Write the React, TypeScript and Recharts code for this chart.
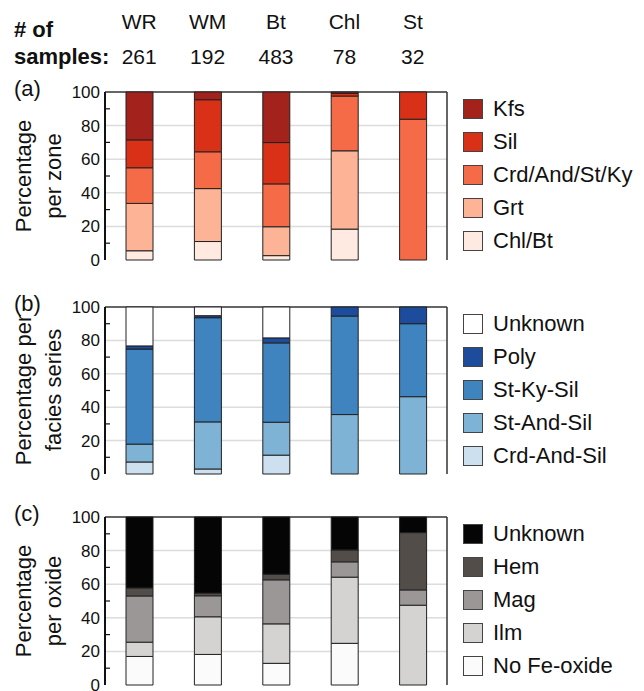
import React from "react";
import { BarChart, Bar, XAxis, YAxis, CartesianGrid } from "recharts";

const categories = ["WR", "WM", "Bt", "Chl", "St"];
const sampleCounts = [261, 192, 483, 78, 32];

// (a) metamorphic zone, bottom -> top
const chlBt = [5.5, 11, 2.6, 18.4, 0];
const grt = [28.2, 31.5, 17.2, 46.6, 0];
const crdAndStKy = [21.2, 21.9, 25.5, 32.6, 83.8];
const sil = [16.6, 31, 24.6, 1.6, 16.2];
const kfs = [28.5, 4.6, 30.1, 0.8, 0];

// (b) facies series
const crdAndSil = [7.2, 3.0, 11.3, 0, 0];
const stAndSil = [10.7, 28.2, 19.7, 35.6, 46.3];
const stKySil = [56.9, 62.4, 47.5, 59, 43.7];
const poly = [1.9, 1.2, 3, 5.4, 10];
const unknownFacies = [23.3, 5.2, 18.5, 0, 0];

// (c) oxide
const noFeOxide = [17, 18.2, 12.9, 24.8, 0];
const ilm = [8.5, 22.4, 23.5, 39.4, 47.5];
const mag = [27.5, 12.5, 26.2, 9.1, 9.1];
const hem = [4.8, 1.6, 3.3, 7.1, 34.1];
const unknownOxide = [42.2, 45.3, 34.1, 19.6, 9.3];

const yTicks = [0, 10, 20, 30, 40, 50, 60, 70, 80, 90, 100];
const gridValues = [20, 40, 60, 80];
const Y_MAX = 100;

const FONT = "'Liberation Sans', Arial, Helvetica, sans-serif";
const PLOT_LEFT = 105;
const EDGE = "#222";

type Series = { key: string; label: string; color: string; values: number[] };

const zoneSeries: Series[] = [
  { key: "chlBt", label: "Chl/Bt", color: "#feeae0", values: chlBt },
  { key: "grt", label: "Grt", color: "#fcb396", values: grt },
  { key: "crd", label: "Crd/And/St/Ky", color: "#f56b47", values: crdAndStKy },
  { key: "sil", label: "Sil", color: "#d83118", values: sil },
  { key: "kfs", label: "Kfs", color: "#a3231c", values: kfs },
];

const faciesSeries: Series[] = [
  { key: "crdAnd", label: "Crd-And-Sil", color: "#cde0ef", values: crdAndSil },
  { key: "stAnd", label: "St-And-Sil", color: "#7fb3d6", values: stAndSil },
  { key: "stKy", label: "St-Ky-Sil", color: "#3f83bf", values: stKySil },
  { key: "poly", label: "Poly", color: "#1d4c9c", values: poly },
  { key: "unk", label: "Unknown", color: "#ffffff", values: unknownFacies },
];

const oxideSeries: Series[] = [
  { key: "noFe", label: "No Fe-oxide", color: "#fbfbfb", values: noFeOxide },
  { key: "ilm", label: "Ilm", color: "#d4d3d2", values: ilm },
  { key: "mag", label: "Mag", color: "#9a9796", values: mag },
  { key: "hem", label: "Hem", color: "#534d4a", values: hem },
  { key: "unk", label: "Unknown", color: "#050505", values: unknownOxide },
];

function buildRows(series: Series[]) {
  return categories.map((cat, i) => {
    const row: Record<string, string | number> = { cat, n: sampleCounts[i] };
    series.forEach((s) => (row[s.key] = s.values[i]));
    return row;
  });
}

function YTick(props: any) {
  const { x, y, payload } = props;
  const v = payload.value;
  if (v % 20 === 0) {
    return (
      <text x={x} y={y} dy={6} textAnchor="end" fontSize={17} fontFamily={FONT} fill="#111">
        {v}
      </text>
    );
  }
  return <line x1={PLOT_LEFT} x2={PLOT_LEFT + 5} y1={y} y2={y} stroke="#111" strokeWidth={1.2} />;
}

function HeaderTick(props: any) {
  const { x, payload, index } = props;
  return (
    <g>
      <text x={x} y={29} textAnchor="middle" fontSize={21} fontFamily={FONT} fill="#111">
        {payload.value}
      </text>
      <text x={x} y={64} textAnchor="middle" fontSize={21} fontFamily={FONT} fill="#111">
        {sampleCounts[index]}
      </text>
    </g>
  );
}

// grid only at the labelled majors
const gridRows = (args: any) => {
  const { yAxis, offset } = args;
  if (yAxis && typeof yAxis.scale === "function") return gridValues.map((v) => yAxis.scale(v));
  return gridValues.map((v) => offset.top + offset.height * (1 - v / Y_MAX));
};
// top and right edges of the plot frame
const frameTop = ({ offset }: any) => [offset.top];
const frameRight = ({ offset }: any) => [offset.left + offset.width];

function Panel({
  series,
  top,
  height,
  marginTop,
  marginBottom,
  header,
}: {
  series: Series[];
  top: number;
  height: number;
  marginTop: number;
  marginBottom: number;
  header?: boolean;
}) {
  return (
    <div style={{ position: "absolute", left: 0, top }}>
      <BarChart
        width={644}
        height={height}
        data={buildRows(series)}
        margin={{ top: marginTop, right: 197, left: 65, bottom: marginBottom }}
        barSize={27}
      >
        <CartesianGrid xAxisId="b" vertical={false} stroke="#dcdcdc" strokeWidth={1.5} horizontalCoordinatesGenerator={gridRows} />
        <CartesianGrid
          xAxisId="b"
          stroke="#333"
          strokeWidth={1.5}
          horizontalCoordinatesGenerator={frameTop}
          verticalCoordinatesGenerator={frameRight}
        />
        <XAxis xAxisId="b" dataKey="cat" height={0} tick={false} tickLine={false} axisLine={{ stroke: "#111", strokeWidth: 2 }} />
        {header && (
          <XAxis
            xAxisId="t"
            dataKey="cat"
            orientation="top"
            height={80}
            tick={HeaderTick}
            tickLine={false}
            tickSize={0}
            axisLine={false}
          />
        )}
        <YAxis
          domain={[0, Y_MAX]}
          ticks={yTicks}
          width={40}
          tickSize={3}
          tickMargin={2}
          tickLine={false}
          tick={YTick}
          interval={0}
          axisLine={{ stroke: "#111", strokeWidth: 2 }}
        />
        {series.map((s) => (
          <Bar key={s.key} xAxisId="b" dataKey={s.key} stackId="a" fill={s.color} stroke={EDGE} strokeWidth={1} isAnimationActive={false} />
        ))}
      </BarChart>
    </div>
  );
}

function LegendBox({ series, firstY }: { series: Series[]; firstY: number }) {
  const items = [...series].reverse();
  return (
    <>
      {items.map((s, i) => (
        <div
          key={s.key}
          style={{
            position: "absolute",
            left: 463,
            top: firstY + i * 33 - 14,
            height: 28,
            display: "flex",
            alignItems: "center",
            fontFamily: FONT,
            fontSize: 22,
            color: "#111",
            whiteSpace: "nowrap",
          }}
        >
          <span
            style={{
              width: 18,
              height: 18,
              background: s.color,
              border: "1px solid #444",
              marginRight: 10,
              display: "inline-block",
            }}
          />
          {s.label}
        </div>
      ))}
    </>
  );
}

function YLabel({ lines, center }: { lines: string[]; center: number }) {
  const xs = [31, 61];
  return (
    <>
      {lines.map((l, i) => (
        <text key={i} x={xs[i]} y={center} transform={`rotate(-90 ${xs[i]} ${center})`} textAnchor="middle" fontSize={22} fontFamily={FONT} fill="#111">
          {l}
        </text>
      ))}
    </>
  );
}

export default function App() {
  return (
    <div style={{ position: "absolute", left: 0, top: 0, width: 644, height: 691, overflow: "hidden", background: "#fff" }}>
      <Panel series={zoneSeries} top={0} height={270} marginTop={12} marginBottom={10} header />
      <Panel series={faciesSeries} top={295} height={190} marginTop={12} marginBottom={11} />
      <Panel series={oxideSeries} top={505} height={186} marginTop={12} marginBottom={6} />

      <svg width={644} height={691} style={{ position: "absolute", left: 0, top: 0, pointerEvents: "none" }}>
        <text x={14} y={37} fontSize={22} fontWeight="bold" fontFamily={FONT} fill="#111">
          # of
        </text>
        <text x={14} y={64} fontSize={22} fontWeight="bold" fontFamily={FONT} fill="#111">
          samples:
        </text>
        <text x={14} y={96} fontSize={22} fontFamily={FONT} fill="#111">(a)</text>
        <text x={14} y={311} fontSize={22} fontFamily={FONT} fill="#111">(b)</text>
        <text x={14} y={521} fontSize={22} fontFamily={FONT} fill="#111">(c)</text>
        <YLabel lines={["Percentage", "per zone"]} center={176} />
        <YLabel lines={["Percentage per", "facies series"]} center={390} />
        <YLabel lines={["Percentage", "per oxide"]} center={601} />
      </svg>

      <LegendBox series={zoneSeries} firstY={109} />
      <LegendBox series={faciesSeries} firstY={324} />
      <LegendBox series={oxideSeries} firstY={534} />
    </div>
  );
}
